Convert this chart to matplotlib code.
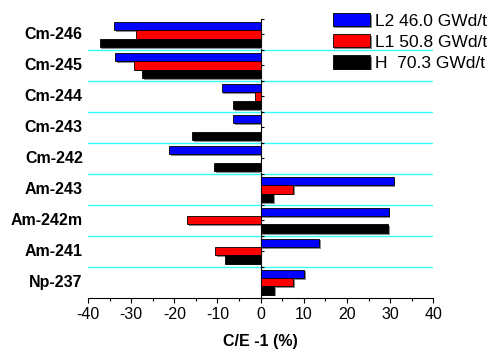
import matplotlib.pyplot as plt
import matplotlib.patheffects as pe
from matplotlib.ticker import MultipleLocator
import numpy as np

plt.rcParams['font.family'] = ['Liberation Sans', 'DejaVu Sans']
plt.rcParams['axes.unicode_minus'] = False

# данные
nuclides = ['Cm-246', 'Cm-245', 'Cm-244', 'Cm-243', 'Cm-242',
            'Am-243', 'Am-242m', 'Am-241', 'Np-237']
l2 = [-34.0, -33.7, -9.0, -6.3, -21.2, 30.8, 29.7, 13.5, 10.1]
l1 = [-28.9, -29.4, -1.4, 0.0, 0.0, 7.6, -17.0, -10.5, 7.6]
h = [-37.3, -27.5, -6.4, -15.9, -10.7, 2.9, 29.5, -8.3, 3.2]
labels = ['L2 46.0 GWd/t', 'L1 50.8 GWd/t', 'H  70.3 GWd/t']
colors = ['#0000ff', '#ff0000', '#000000']

fig = plt.figure(figsize=(4.87, 3.5), dpi=100)
ax = fig.add_axes([0.1807, 0.1494, 0.709, 0.7963])

y = np.arange(len(nuclides))
bh = 0.27
shadow = [pe.SimplePatchShadow(offset=(1.2, -1.2), shadow_rgbFace='0.55', alpha=1.0), pe.Normal()]
for i, (vals, c, lab) in enumerate(zip([l2, l1, h], colors, labels)):
    bars = ax.barh(y + (i - 1) * bh, vals, height=bh, color=c, edgecolor='black',
                   linewidth=0.6, label=lab, zorder=3)
    for b in bars:
        if b.get_width() != 0:
            b.set_path_effects(shadow)

# голубые разделители
for yy in np.arange(0.5, len(nuclides) - 0.5, 1):
    ax.axhline(yy, color='#33ffff', linewidth=1.0, zorder=1)

ax.set_xlim(-40, 40)
ax.set_ylim(len(nuclides) - 0.5, -0.5)

ax.spines[['top', 'right']].set_visible(False)
ax.spines['left'].set_position(('data', 0))
ax.spines['left'].set_linewidth(0.8)
ax.spines['bottom'].set_linewidth(0.8)

ax.xaxis.set_major_locator(MultipleLocator(10))
ax.xaxis.set_minor_locator(MultipleLocator(5))
ax.tick_params(axis='x', which='major', direction='out', length=3.5, width=0.8,
               labelsize=11.5, pad=3)
ax.tick_params(axis='x', which='minor', direction='out', length=2.5, width=0.8)

ax.set_yticks(np.arange(-0.5, len(nuclides), 0.5))
ax.tick_params(axis='y', direction='in', length=2, width=0.8, labelleft=False)

for yy, name in zip(y, nuclides):
    ax.text(-0.015, yy, name, transform=ax.get_yaxis_transform(), ha='right',
            va='center', fontsize=11.5, fontweight='bold')

ax.set_xlabel('C/E -1 (%)', fontsize=11.5, fontweight='bold', labelpad=9)

leg = ax.legend(loc='upper left', bbox_to_anchor=(0.683, 0.963), bbox_transform=fig.transFigure,
                frameon=False, fontsize=12.5, handlelength=2.15, handleheight=0.8,
                handletextpad=0.3, labelspacing=0.32, borderpad=0, borderaxespad=0)
for p in leg.get_patches():
    p.set_path_effects(shadow)

plt.savefig('out.png', dpi=100)
